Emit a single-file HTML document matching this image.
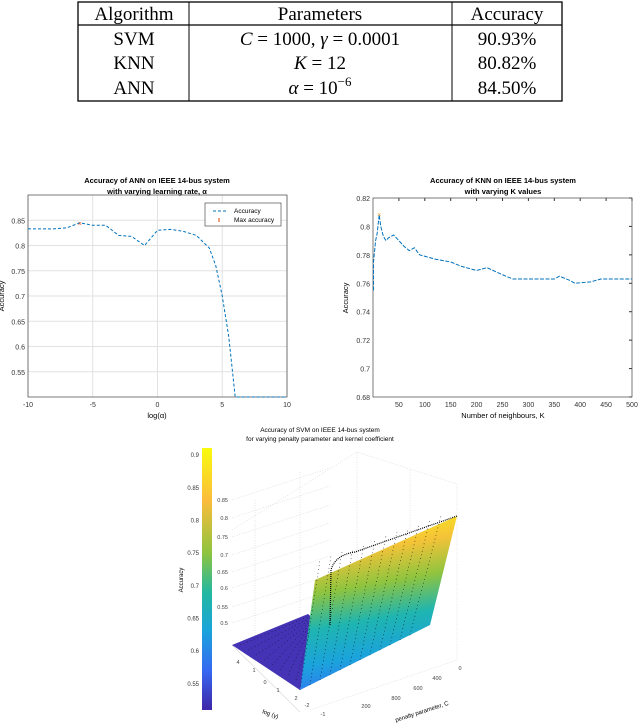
<!DOCTYPE html>
<html><head><meta charset="utf-8"><style>
body{margin:0;background:#fff;width:640px;height:724px;overflow:hidden;font-family:"Liberation Sans",sans-serif}
svg{position:absolute;left:0;top:0}
</style></head><body>
<svg width="640" height="724" viewBox="0 0 640 724">
<defs>
<linearGradient id="cb" x1="0" y1="0" x2="0" y2="1">
<stop offset="0" stop-color="#f9fb0e"/><stop offset="0.2" stop-color="#fbbc3c"/><stop offset="0.4" stop-color="#8fc43f"/><stop offset="0.55" stop-color="#23b8a0"/><stop offset="0.7" stop-color="#1ba3dc"/><stop offset="0.85" stop-color="#3668f1"/><stop offset="1" stop-color="#3e26a8"/>
</linearGradient>
<linearGradient id="sf" x1="0" y1="0" x2="0.15" y2="1">
<stop offset="0" stop-color="#f9fb0e"/><stop offset="0.25" stop-color="#f5c338"/><stop offset="0.45" stop-color="#8fc43f"/><stop offset="0.65" stop-color="#1fb5b0"/><stop offset="0.85" stop-color="#1ba3dc"/><stop offset="1" stop-color="#2f7ef0"/>
</linearGradient>
</defs>
<g font-family="Liberation Serif,serif" font-size="19" text-anchor="middle">
<rect x="78" y="2" width="484" height="99" fill="none" stroke="#000" stroke-width="1.3"/>
<line x1="78" y1="25" x2="562" y2="25" stroke="#000" stroke-width="1.2"/>
<line x1="189" y1="2" x2="189" y2="101" stroke="#000" stroke-width="1"/>
<line x1="452" y1="2" x2="452" y2="101" stroke="#000" stroke-width="1"/>
<text x="134" y="20">Algorithm</text><text x="320" y="20">Parameters</text><text x="507" y="20">Accuracy</text>
<text x="134" y="45">SVM</text><text x="320" y="45"><tspan font-style="italic">C</tspan> = 1000, <tspan font-style="italic">γ</tspan> = 0.0001</text><text x="507" y="45">90.93%</text>
<text x="134" y="69">KNN</text><text x="320" y="69"><tspan font-style="italic">K</tspan> = 12</text><text x="507" y="69">80.82%</text>
<text x="134" y="94">ANN</text><text x="320" y="94"><tspan font-style="italic">α</tspan> = 10<tspan dy="-8" font-size="13">−6</tspan></text><text x="507" y="94">84.50%</text>
</g>
<g id="ann"></g>
<g id="knn"></g>
<g id="svm"></g>
</svg>
<script>
const annX=[-10,-8,-7,-6,-5,-4,-3,-2,-1,0,1,2,3,4,4.5,5,5.5,6,10];
const annY=[0.833,0.833,0.835,0.845,0.84,0.84,0.82,0.818,0.80,0.83,0.832,0.828,0.82,0.795,0.76,0.70,0.62,0.50,0.50];
const annXTicks=[-10,-5,0,5,10];
const annYTicks=[0.55,0.6,0.65,0.7,0.75,0.8,0.85];
const knnX=[1,1,5,8,12,15,20,25,30,40,50,60,70,80,90,100,120,150,170,200,220,250,270,300,330,350,360,380,390,420,440,470,500];
const knnY=[0.755,0.775,0.79,0.795,0.8082,0.80,0.793,0.79,0.792,0.794,0.79,0.786,0.783,0.785,0.78,0.779,0.777,0.775,0.772,0.769,0.771,0.766,0.763,0.763,0.763,0.763,0.765,0.762,0.760,0.761,0.763,0.763,0.763];
const knnXTicks=[50,100,150,200,250,300,350,400,450,500];
const knnYTicks=[0.68,0.7,0.72,0.74,0.76,0.78,0.8,0.82];
const svmCbTicks=[0.55,0.6,0.65,0.7,0.75,0.8,0.85,0.9];
const NS="http://www.w3.org/2000/svg";
function mk(p,t,a,txt){const e=document.createElementNS(NS,t);for(const k in a)e.setAttribute(k,a[k]);if(txt!==undefined)e.textContent=txt;p.appendChild(e);return e;}
// ANN
(function(){const g=document.getElementById('ann');
const L=28,R=287,T=195,B=397;const sx=v=>L+(v+10)/20*(R-L),sy=v=>B-(v-0.5)/0.4*(B-T);
annYTicks.forEach(v=>{const l=mk(g,'line',{x1:L,x2:R,y1:sy(v),y2:sy(v),stroke:'#e2e2e2'});
const t=mk(g,'text',{x:L-3,y:sy(v)+3,'font-size':7,'text-anchor':'end',fill:'#333'},String(v));});
annXTicks.forEach(v=>{mk(g,'line',{x1:sx(v),x2:sx(v),y1:T,y2:B,stroke:'#e2e2e2'});
const t=mk(g,'text',{x:sx(v),y:B+10,'font-size':7,'text-anchor':'middle',fill:'#333'},String(v));});
mk(g,'rect',{x:L,y:T,width:R-L,height:B-T,fill:'none',stroke:'#444','stroke-width':0.7});
const p=mk(g,'polyline',{points:annX.map((x,i)=>sx(x)+','+sy(annY[i])).join(' '),fill:'none',stroke:'#0072bd','stroke-width':1,'stroke-dasharray':'3,2'});

const m=mk(g,'text',{x:sx(-6),y:sy(0.845)+3,'font-size':7,'text-anchor':'middle',fill:'#d95319'},'×');
mk(g,'text',{x:157,y:183,'font-size':7.5,'font-weight':'bold','text-anchor':'middle'},'Accuracy of ANN on IEEE 14-bus system');
mk(g,'text',{x:157,y:194,'font-size':7.5,'font-weight':'bold','text-anchor':'middle'},'with varying learning rate, α');
const yl=mk(g,'text',{x:0,y:0,'font-size':7.5,'text-anchor':'middle',transform:`translate(4,296) rotate(-90)`},'Accuracy');
const xl=mk(g,'text',{x:157,y:418,'font-size':7.5,'text-anchor':'middle'},'log(α)');
const lg=mk(g,'g',{});
mk(lg,'rect',{x:205,y:203,width:76,height:23,fill:'#fff',stroke:'#333','stroke-width':0.6});
mk(lg,'text',{x:234,y:213,'font-size':6.5},'Accuracy');mk(lg,'text',{x:234,y:222,'font-size':6.5},'Max accuracy');
mk(lg,'line',{x1:213,x2:227,y1:211,y2:211,stroke:'#0072bd','stroke-dasharray':'3,2'});
mk(lg,'rect',{x:218,y:218,width:2,height:4,fill:'#f0a080'});
})();
// KNN
(function(){const g=document.getElementById('knn');
const L=373,R=632,T=198,B=397;const sx=v=>L+v/500*(R-L),sy=v=>B-(v-0.68)/0.14*(B-T);
knnYTicks.forEach(v=>{mk(g,'line',{x1:R-3,x2:R,y1:sy(v),y2:sy(v),stroke:'#333'});
const t=mk(g,'text',{x:L-3,y:sy(v)+3,'font-size':7,'text-anchor':'end',fill:'#333'},String(v));});
knnXTicks.forEach(v=>{mk(g,'line',{x1:sx(v),x2:sx(v),y1:T,y2:T+3,stroke:'#333'});
const t=mk(g,'text',{x:sx(v),y:B+10,'font-size':7,'text-anchor':'middle',fill:'#333'},String(v));});
mk(g,'rect',{x:L,y:T,width:R-L,height:B-T,fill:'none',stroke:'#444','stroke-width':0.7});
const p=mk(g,'polyline',{points:knnX.map((x,i)=>sx(x)+','+sy(knnY[i])).join(' '),fill:'none',stroke:'#0072bd','stroke-width':1,'stroke-dasharray':'4,1.5'});

const m=mk(g,'text',{x:sx(12),y:sy(0.8082)+2,'font-size':7,'text-anchor':'middle',fill:'#f0a030'},'×');
mk(g,'text',{x:503,y:183,'font-size':7.5,'font-weight':'bold','text-anchor':'middle'},'Accuracy of KNN on IEEE 14-bus system');
mk(g,'text',{x:503,y:194,'font-size':7.5,'font-weight':'bold','text-anchor':'middle'},'with varying K values');
const yl=mk(g,'text',{x:0,y:0,'font-size':7.5,'text-anchor':'middle',transform:`translate(348,298) rotate(-90)`},'Accuracy');
const xl=mk(g,'text',{x:503,y:418,'font-size':7.5,'text-anchor':'middle'},'Number of neighbours, K');
})();
// SVM
(function(){const g=document.getElementById('svm');
const cT=448,cB=710,sy=v=>cB-(v-0.51)/0.401*(cB-cT);
mk(g,'text',{x:320,y:432,'font-size':6.5,'text-anchor':'middle'},'Accuracy of SVM on IEEE 14-bus system');
mk(g,'text',{x:320,y:441,'font-size':6.5,'text-anchor':'middle'},'for varying penalty parameter and kernel coefficient');
const cb=mk(g,'rect',{x:202,y:cT,width:10,height:cB-cT,fill:'url(#cb)'});
svmCbTicks.forEach(v=>{const t=mk(g,'text',{x:199,y:sy(v)+2,'font-size':6,'text-anchor':'end',fill:'#333'},String(v));});
// 3D grid
const gs={stroke:'#ccc','stroke-width':0.5,'stroke-dasharray':'1,1.5',fill:'none'};
mk(g,'polyline',Object.assign({points:'232,530 357,452 457,484 457,660'},gs));
mk(g,'polyline',Object.assign({points:'255,500 255,650'},gs));mk(g,'polyline',Object.assign({points:'300,472 300,615'},gs));
mk(g,'polyline',Object.assign({points:'357,452 357,600'},gs));mk(g,'polyline',Object.assign({points:'410,470 410,640'},gs));
[500,518,537,555,572,588,607,623].forEach((y,i)=>{mk(g,'line',Object.assign({x1:232,y1:y,x2:330,y2:y-32},gs));});
['0.85','0.8','0.75','0.7','0.65','0.6','0.55','0.5'].forEach((s,i)=>{mk(g,'text',{x:228,y:[500,518,537,555,572,588,607,623][i]+2,'font-size':5.5,'text-anchor':'end',fill:'#444'},s);});
mk(g,'polyline',Object.assign({points:'310,710 457,660'},gs));
mk(g,'polyline',Object.assign({points:'232,645 300,712'},{stroke:'#bbb','stroke-width':0.5,fill:'none'}));
const fl=mk(g,'polygon',{points:'232,645 308,614 315,620 300,690',fill:'#4433b5'});
const sp=mk(g,'polygon',{points:'300,690 315,580 457,516 430,625',fill:'url(#sf)'});
mk(g,'path',{d:'M330,625 L331,570 Q335,555 355,552 L457,516',fill:'none',stroke:'#000','stroke-width':1.2,'stroke-dasharray':'1,1'});
for(let i=0;i<12;i++){mk(g,'line',{x1:300+i*10,y1:690-i*5,x2:320+i*11,y2:560-i*4,stroke:'#000','stroke-width':0.6,'stroke-dasharray':'0.8,3'});}
for(let i=0;i<8;i++){mk(g,'line',{x1:240+i*8,y1:645+i*5,x2:310,y2:616+i*2,stroke:'#000','stroke-width':0.5,'stroke-dasharray':'0.8,3'});}
[['0',460,670],['400',437,680],['600',418,690],['800',396,700],['200',366,708],['-1',323,716],['-2',307,707],['2',296,700],['1',278,692],['0',265,684],['1',254,672],['4',238,664]].forEach(a=>mk(g,'text',{x:a[1],y:a[2],'font-size':5.5,'text-anchor':'middle',fill:'#444'},a[0]));
const xl=mk(g,'text',{x:0,y:0,'font-size':6,transform:'translate(262,713) rotate(20)'},'log (γ)');
const cl=mk(g,'text',{x:0,y:0,'font-size':6,transform:'translate(396,722) rotate(-18)'},'penalty parameter, C');
const zl=mk(g,'text',{x:0,y:0,'font-size':6,'text-anchor':'middle',transform:'translate(183,580) rotate(-90)'},'Accuracy');
})();
</script>
</body></html>
